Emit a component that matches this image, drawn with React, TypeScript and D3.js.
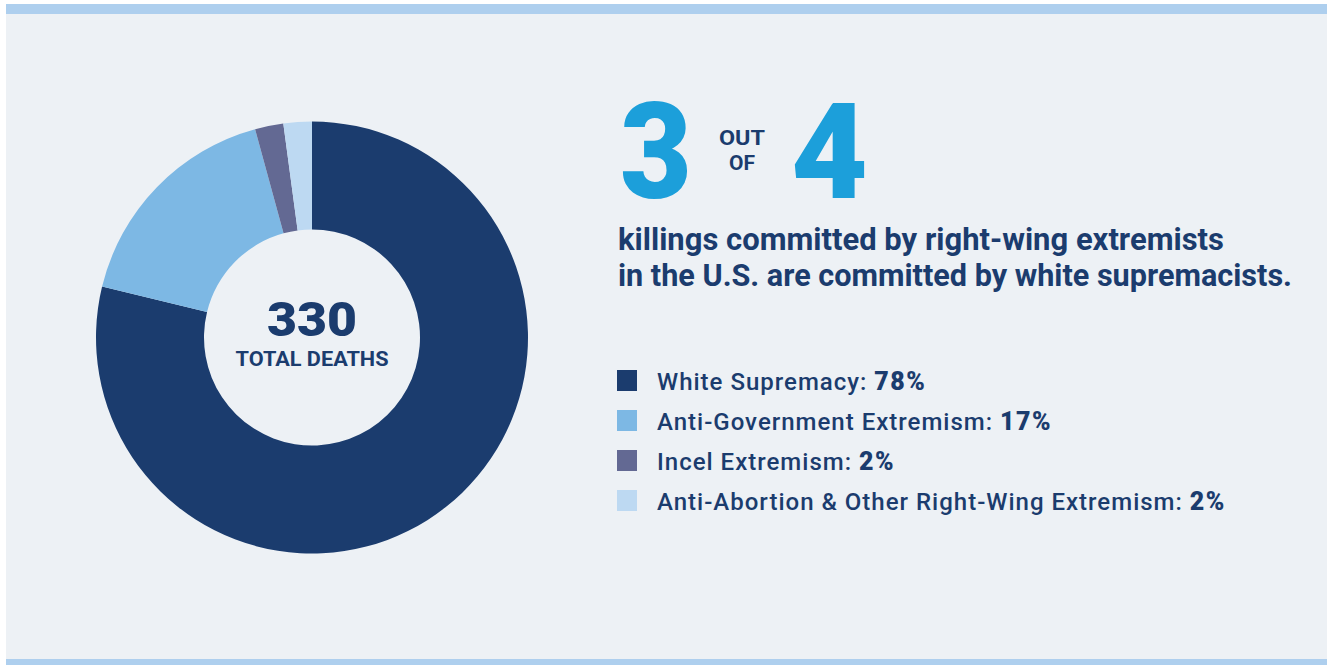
import React from "react";
import * as d3 from "d3";

const categories = [
  "White Supremacy",
  "Anti-Government Extremism",
  "Incel Extremism",
  "Anti-Abortion & Other Right-Wing Extremism",
];
const deaths = [260, 56, 7, 7];
const percentLabels = ["78%", "17%", "2%", "2%"];
const colors = ["#1b3c6e", "#7db8e4", "#636993", "#bdd9f2"];
const totalLabel = "330";

const W = 1327;
const H = 665;
const navy = "#1b3c6e";
const cyan = "#1c9fda";
const bodyFont = "Roboto, 'Open Sans', sans-serif";
const heavyFont = "Roboto, Inter, sans-serif";

export default function App() {
  const cx = 312;
  const cy = 337.5;
  const pie = d3
    .pie<number>()
    .sort(null)
    .value((d) => d)
    .startAngle(0)
    .endAngle(2 * Math.PI);
  const arcs = pie(deaths);
  const arc = d3.arc<d3.PieArcDatum<number>>().innerRadius(108).outerRadius(216);

  const legendY = d3
    .scalePoint<string>()
    .domain(categories)
    .range([381, 501]);

  return (
    <svg
      width={W}
      height={H}
      style={{ position: "absolute", left: 0, top: 0, display: "block" }}
    >
      <rect x={0} y={0} width={W} height={H} fill="#ffffff" />
      <rect x={6} y={4} width={W - 6} height={H - 4} fill="#edf1f5" />
      <rect x={6} y={4} width={W - 6} height={10} fill="#aecfee" />
      <rect x={6} y={659} width={W - 6} height={6} fill="#aecfee" />

      <g transform={`translate(${cx},${cy})`}>
        {arcs.map((a, i) => (
          <path key={categories[i]} d={arc(a) || ""} fill={colors[i]} />
        ))}
        <text
          x={0}
          y={-2}
          textAnchor="middle"
          fontFamily={heavyFont}
          fontWeight={900}
          fontSize={48}
          fill={navy}
          textLength={90}
          lengthAdjust="spacingAndGlyphs"
        >
          {totalLabel}
        </text>
        <text
          x={0}
          y={28}
          textAnchor="middle"
          fontFamily={bodyFont}
          fontWeight={700}
          fontSize={21}
          fill={navy}
          textLength={153}
          lengthAdjust="spacingAndGlyphs"
        >
          TOTAL DEATHS
        </text>
      </g>

      <text
        x={620}
        y={198}
        fontFamily={heavyFont}
        fontWeight={900}
        fontSize={134}
        fill={cyan}
        textLength={72}
        lengthAdjust="spacingAndGlyphs"
      >
        3
      </text>
      <text
        x={742}
        y={145}
        textAnchor="middle"
        fontFamily={bodyFont}
        fontWeight={700}
        fontSize={21}
        fill={navy}
        textLength={46}
        lengthAdjust="spacingAndGlyphs"
      >
        OUT
      </text>
      <text
        x={742}
        y={170}
        textAnchor="middle"
        fontFamily={bodyFont}
        fontWeight={700}
        fontSize={21}
        fill={navy}
      >
        OF
      </text>
      <text
        x={791}
        y={198}
        fontFamily={heavyFont}
        fontWeight={900}
        fontSize={134}
        fill={cyan}
        textLength={77}
        lengthAdjust="spacingAndGlyphs"
      >
        4
      </text>

      <text
        x={618}
        y={250}
        fontFamily={bodyFont}
        fontWeight={700}
        fontSize={31}
        fill={navy}
        textLength={606}
        lengthAdjust="spacingAndGlyphs"
      >
        killings committed by right-wing extremists
      </text>
      <text
        x={618}
        y={286}
        fontFamily={bodyFont}
        fontWeight={700}
        fontSize={31}
        fill={navy}
        textLength={674}
        lengthAdjust="spacingAndGlyphs"
      >
        in the U.S. are committed by white supremacists.
      </text>

      {categories.map((c, i) => {
        const y = legendY(c) as number;
        return (
          <g key={c}>
            <rect x={617} y={y - 11} width={20} height={21} fill={colors[i]} />
            <text
              x={657}
              y={y + 9}
              fontFamily={bodyFont}
              fontSize={24}
              fontWeight={500}
              letterSpacing={1}
              fill={navy}
            >
              {c}:{" "}
              <tspan
                fontFamily={heavyFont}
                fontWeight={900}
                fontSize={25}
                letterSpacing={1.5}
              >
                {percentLabels[i]}
              </tspan>
            </text>
          </g>
        );
      })}
    </svg>
  );
}
